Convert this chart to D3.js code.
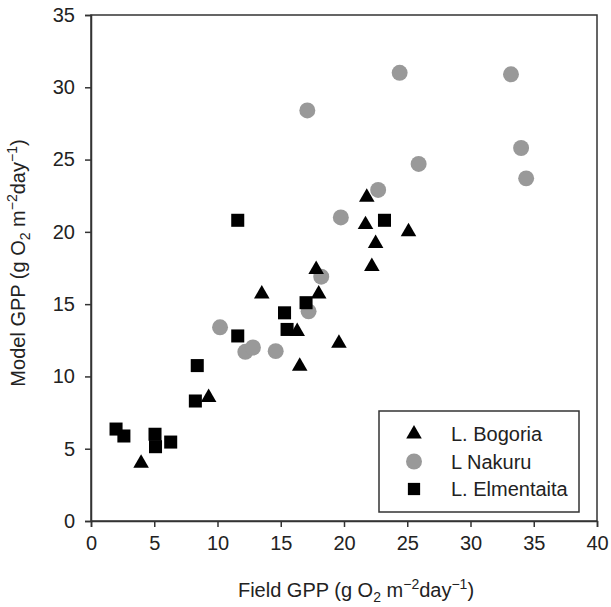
<!DOCTYPE html>
<html>
<head>
<meta charset="utf-8">
<script src="https://cdn.jsdelivr.net/npm/d3@7"></script>
<style>
  body { margin: 0; background: #fff; }
  text { font-family: "Liberation Sans", Arial, sans-serif; fill: #222; }
</style>
</head>
<body>
<div id="chart"></div>
<script>
// values
const bogoriaX = [21.8, 21.7, 25.1, 22.5, 22.2, 17.8, 18.0, 13.5, 16.3, 19.6, 16.5, 9.3, 3.96];
const bogoriaY = [22.4, 20.5, 20.0, 19.2, 17.6, 17.4, 15.7, 15.7, 13.1, 12.3, 10.7, 8.55, 4.0];

const nakuruX = [24.4, 17.1, 25.9, 22.7, 33.2, 34.0, 34.4, 19.75, 18.2, 17.2, 14.6, 10.2, 12.2, 12.8];
const nakuruY = [31.0, 28.4, 24.7, 22.9, 30.9, 25.8, 23.7, 21.0, 16.9, 14.5, 11.75, 13.4, 11.7, 12.0];

const elmentaitaX = [11.6, 11.6, 8.4, 8.25, 1.98, 2.6, 5.06, 5.1, 6.3, 23.2, 15.3, 17.0, 15.5];
const elmentaitaY = [20.8, 12.8, 10.75, 8.3, 6.36, 5.88, 6.0, 5.14, 5.46, 20.8, 14.4, 15.1, 13.25];

const seriesNames = ["L. Bogoria", "L Nakuru", "L. Elmentaita"];
const xTicks = [0, 5, 10, 15, 20, 25, 30, 35, 40];
const yTicks = [0, 5, 10, 15, 20, 25, 30, 35];

const W = 611, H = 607;
const margin = {top: 15, right: 14, bottom: 86, left: 91};
const width = W - margin.left - margin.right;
const height = H - margin.top - margin.bottom;

const svg = d3.select("#chart").append("svg")
    .attr("width", W)
    .attr("height", H);

const g = svg.append("g")
    .attr("transform", "translate(" + margin.left + "," + margin.top + ")");

let x = d3.scaleLinear().domain([0, 40]).range([0, width]);
let y = d3.scaleLinear().domain([0, 35]).range([height, 0]);

// frame
g.append("rect")
    .attr("width", width)
    .attr("height", height)
    .attr("fill", "none")
    .attr("stroke", "#333")
    .attr("stroke-width", 1.5);

const xAxis = g.append("g")
    .attr("transform", "translate(0," + height + ")")
    .call(d3.axisBottom(x).tickValues(xTicks).tickSize(6).tickPadding(9));
const yAxis = g.append("g")
    .call(d3.axisLeft(y).tickValues(yTicks).tickSize(6).tickPadding(10));

[xAxis, yAxis].forEach(a => {
    a.select(".domain").attr("stroke", "#333").attr("stroke-width", 1.5);
    a.selectAll(".tick line").attr("stroke", "#333").attr("stroke-width", 1.5);
    a.selectAll(".tick text")
        .style("font-family", "'Liberation Sans', Arial, sans-serif")
        .style("font-size", "20px")
        .attr("fill", "#222");
});

// points
const series = [
    {xs: bogoriaX, ys: bogoriaY, type: d3.symbolTriangle, size: 105, color: "#000"},
    {xs: nakuruX, ys: nakuruY, type: d3.symbolCircle, size: 200, color: "#999"},
    {xs: elmentaitaX, ys: elmentaitaY, type: d3.symbolSquare, size: 170, color: "#000"}
];

// draw circles first so black markers sit on top, like the figure
[1, 0, 2].forEach(k => {
    const s = series[k];
    const pts = s.xs.map((v, i) => [v, s.ys[i]]);
    g.selectAll(".pt" + k)
        .data(pts)
        .enter().append("path")
        .attr("class", "pt" + k)
        .attr("d", d3.symbol().type(s.type).size(s.size))
        .attr("transform", d => "translate(" + x(d[0]) + "," + y(d[1]) + ")")
        .attr("fill", s.color);
});

// legend
const legend = svg.append("g").attr("transform", "translate(379,411)");
legend.append("rect")
    .attr("width", 200)
    .attr("height", 101)
    .attr("fill", "#fff")
    .attr("stroke", "#333")
    .attr("stroke-width", 1.5);

const rows = legend.selectAll(".row")
    .data(series)
    .enter().append("g")
    .attr("transform", (d, i) => "translate(35," + (23 + i * 27.5) + ")");
rows.append("path")
    .attr("d", d => d3.symbol().type(d.type).size(d.type === d3.symbolSquare ? 150 : d.size)())
    .attr("fill", d => d.color);
rows.append("text")
    .attr("x", 37)
    .attr("y", 7)
    .style("font-size", "20px")
    .text((d, i) => seriesNames[i]);

// axis titles
function title(sel) {
    sel.append("tspan").text("(g O");
    sel.append("tspan").attr("dy", 5).style("font-size", "14px").text("2");
    sel.append("tspan").attr("dy", -5).text(" m");
    sel.append("tspan").attr("dy", -8).style("font-size", "14px").text("\u22122");
    sel.append("tspan").attr("dy", 8).text("day");
    sel.append("tspan").attr("dy", -8).style("font-size", "14px").text("\u22121");
    sel.append("tspan").attr("dy", 8).text(")");
}

const xt = svg.append("text")
    .attr("x", 356)
    .attr("y", 597)
    .attr("text-anchor", "middle")
    .style("font-size", "20px");
xt.append("tspan").text("Field GPP ");
title(xt);

const yt = svg.append("text")
    .attr("transform", "translate(25,263) rotate(-90)")
    .attr("text-anchor", "middle")
    .style("font-size", "20px");
yt.append("tspan").text("Model GPP ");
title(yt);
</script>
</body>
</html>
